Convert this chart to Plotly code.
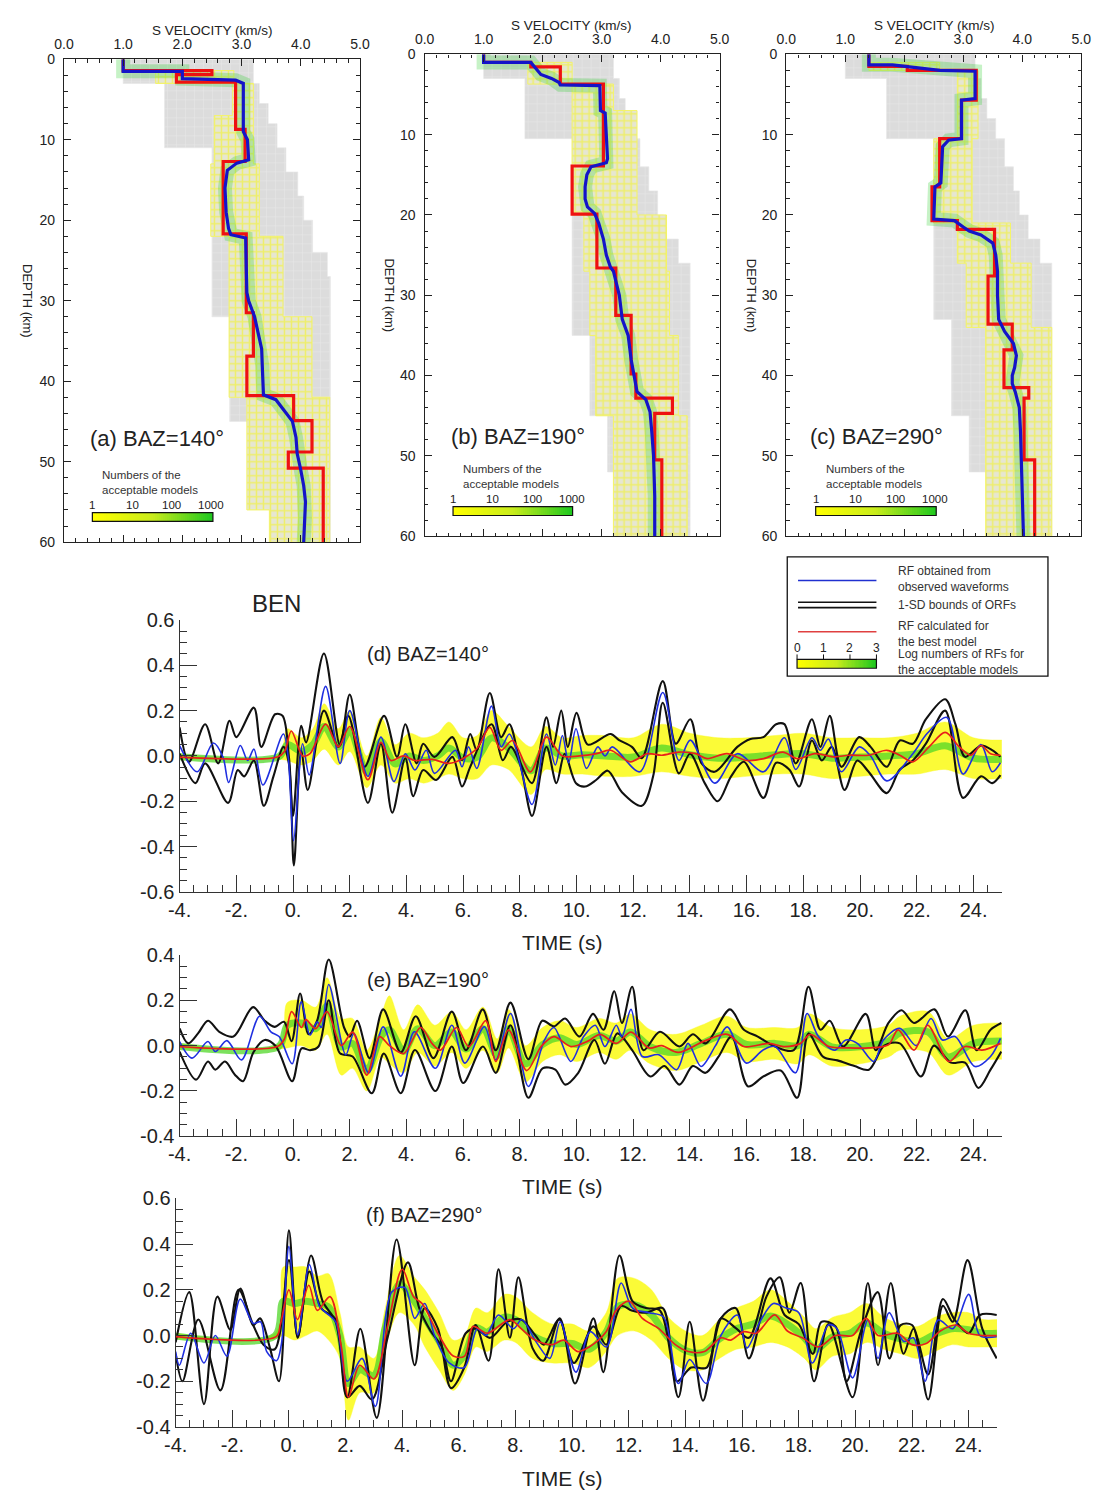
import plotly.graph_objects as go

W, H = 1105, 1504
FONT = "Liberation Sans, Arial, sans-serif"
TXT = "#222222"

# ---------------- velocity models (top panels) ----------------
# best model (red) : layer tops (km) and S velocity (km/s)
RED_A_TOP = [0, 1.4, 1.9, 2.85, 8.7, 12.7, 21.7, 31.5, 36.9, 41.8, 44.9, 48.8, 50.8]
RED_A_VS = [1.0, 2.5, 1.9, 2.9, 3.06, 2.69, 3.08, 3.2, 3.09, 3.88, 4.19, 3.79, 4.38]
RED_B_TOP = [0, 1.0, 1.55, 3.7, 13.9, 19.9, 26.6, 32.5, 39.8, 42.8, 44.7, 50.5]
RED_B_VS = [1.0, 1.8, 2.3, 3.03, 2.5, 2.92, 3.24, 3.5, 3.58, 4.2, 3.9, 4.02]
RED_C_TOP = [0, 1.5, 2.0, 5.7, 10.5, 16.5, 20.7, 21.8, 27.6, 33.6, 36.8, 41.5, 42.8, 50.5]
RED_C_VS = [1.4, 2.05, 3.22, 2.97, 2.6, 2.47, 2.9, 3.53, 3.42, 3.83, 3.69, 4.11, 4.03, 4.21]

# averaged model (blue)
BLUE_A_DEPTH = [0, 1.5, 1.5, 2.4, 2.6, 3.0, 9.0, 10.0, 12.5, 12.9, 13.8, 16, 19, 21, 21.8, 22.2, 26, 29, 30, 32,
                34, 36, 38, 40, 41.7, 42.3, 44, 45, 47, 49, 51, 53, 55, 57, 60]
BLUE_A_VS = [1.0, 1.0, 2.0, 2.0, 2.9, 3.03, 3.03, 3.1, 3.12, 2.92, 2.76, 2.72, 2.74, 2.78, 2.82, 3.07, 3.08, 3.09,
             3.12, 3.22, 3.28, 3.34, 3.35, 3.36, 3.37, 3.58, 3.75, 3.86, 3.92, 3.94, 4.0, 4.05, 4.08, 4.07, 4.05]
BLUE_B_DEPTH = [0, 1.0, 1.0, 1.5, 2.0, 2.5, 3.0, 3.5, 3.8, 3.9, 7.0, 7.3, 13.0, 13.5, 14.0, 15.0, 16.5, 18.0,
                19.0, 19.8, 21.0, 23.0, 25.0, 26.5, 27.0, 30.0, 33.0, 35.0, 38.0, 40.0, 42.0, 43.0, 44.5, 47.0,
                50.0, 55.0, 60.0]
BLUE_B_VS = [1.0, 1.0, 1.8, 1.86, 1.92, 1.97, 2.15, 2.28, 2.3, 2.97, 2.98, 3.06, 3.1, 3.08, 2.82, 2.75, 2.72,
             2.72, 2.76, 2.88, 2.95, 3.03, 3.08, 3.15, 3.2, 3.3, 3.35, 3.45, 3.5, 3.55, 3.6, 3.75, 3.82, 3.85,
             3.88, 3.9, 3.9]
BLUE_C_DEPTH = [0, 1.3, 1.3, 1.7, 2.0, 2.1, 5.5, 5.7, 10.5, 10.7, 11.5, 16.0, 16.5, 20.5, 20.7, 21.5, 22.0,
                22.5, 23.5, 25.0, 27.0, 30.0, 33.0, 34.5, 36.0, 37.5, 39.0, 40.0, 41.0, 42.0, 44.0, 47.0, 50.0,
                52.0, 60.0]
BLUE_C_VS = [1.4, 1.4, 1.8, 2.3, 2.6, 3.2, 3.2, 2.97, 2.97, 2.75, 2.65, 2.62, 2.52, 2.5, 2.85, 3.0, 3.1, 3.3,
             3.5, 3.55, 3.58, 3.58, 3.6, 3.7, 3.85, 3.9, 3.87, 3.83, 3.83, 3.88, 3.95, 3.97, 3.98, 4.0, 4.02]

# range of all tested models (grey)
GRAY_A_TOP = [0, 3, 5.5, 8, 11, 14, 17, 20, 24, 27, 32, 45, 52]
GRAY_A_LEFT = [1.0, 1.7, 1.7, 1.7, 2.5, 2.5, 2.5, 2.5, 2.5, 2.5, 2.8, 3.1, 3.5]
GRAY_A_RIGHT = [3.2, 3.3, 3.45, 3.6, 3.75, 3.95, 4.05, 4.2, 4.45, 4.5, 4.5, 4.5, 4.5]
GRAY_B_TOP = [0, 3, 5.5, 8, 10.5, 14, 17, 20, 23, 26, 35, 45, 52]
GRAY_B_LEFT = [1.0, 1.7, 1.7, 1.7, 2.5, 2.5, 2.5, 2.5, 2.5, 2.5, 2.8, 3.1, 3.5]
GRAY_B_RIGHT = [3.2, 3.3, 3.4, 3.55, 3.65, 3.8, 3.95, 4.05, 4.3, 4.5, 4.5, 4.5, 4.5]
GRAY_C_TOP = [0, 3, 5.5, 8, 10.5, 14, 17, 20, 23, 26, 33, 45, 52]
GRAY_C_LEFT = [1.0, 1.7, 1.7, 1.7, 2.5, 2.5, 2.5, 2.5, 2.5, 2.5, 2.8, 3.1, 3.5]
GRAY_C_RIGHT = [3.2, 3.3, 3.4, 3.55, 3.7, 3.85, 3.95, 4.1, 4.3, 4.5, 4.5, 4.5, 4.5]

# range of the acceptable models (yellow/green)
ACC_A_TOP = [1.4, 3.0, 7.0, 13, 22, 32, 42, 56]
ACC_A_LEFT = [1.55, 2.85, 2.54, 2.48, 2.79, 2.79, 3.09, 3.47]
ACC_A_RIGHT = [2.87, 3.2, 3.2, 3.3, 3.7, 4.19, 4.49, 4.49]
ACC_B_TOP = [1.0, 3.7, 7.0, 13.9, 20, 27, 35, 45]
ACC_B_LEFT = [1.75, 2.5, 2.5, 2.5, 2.7, 2.8, 2.9, 3.2]
ACC_B_RIGHT = [2.5, 3.2, 3.6, 3.6, 4.1, 4.15, 4.3, 4.45]
ACC_C_TOP = [1.0, 2.0, 10.5, 21, 26, 34]
ACC_C_LEFT = [1.4, 2.9, 2.5, 2.9, 3.05, 3.38]
ACC_C_RIGHT = [2.6, 3.25, 3.15, 3.8, 4.15, 4.5]

VEL_TICKS = [0, 1, 2, 3, 4, 5]
DEPTH_TICKS = [0, 10, 20, 30, 40, 50, 60]
MODEL_COUNT_LABELS = ["1", "10", "100", "1000"]
RF_COUNT_LABELS = ["0", "1", "2", "3"]

# ---------------- receiver functions (lower panels) ----------------
# (d) BAZ=140
BLUE_D_T = [-4.0, -3.38, -2.81, -2.47, -2.27, -1.86, -1.6, -1.38, -1.06, -0.34, -0.17, 0.02, 0.34, 0.57, 1.15,
            1.66, 2.0, 2.64, 3.1, 3.56, 3.96, 4.3, 4.7, 4.99, 5.73, 5.96, 6.19, 6.48, 7.0, 7.34, 7.63, 7.86,
            8.43, 8.94, 9.25, 9.5, 9.72, 9.98, 10.35, 10.75, 11.0, 11.26, 12.23, 13.04, 13.61, 14.01, 14.87,
            15.67, 16.59, 17.33, 17.73, 18.3, 18.6, 18.88, 19.34, 19.97, 20.37, 20.94, 21.86, 22.37, 23.06,
            23.63, 24.26, 24.66, 24.95]
BLUE_D_V = [0.046, -0.07, 0.057, -0.005, -0.117, 0.046, -0.02, 0.03, -0.128, 0.097, -0.005, -0.374, 0.054,
            -0.084, 0.307, -0.033, 0.2, -0.09, 0.083, -0.113, 0.01, -0.062, 0.025, -0.077, 0.025, -0.048, 0.04,
            -0.055, 0.22, 0.04, 0.097, 0.032, -0.214, 0.097, -0.04, 0.09, -0.03, 0.12, -0.055, 0.04, 0.0, 0.04,
            -0.07, 0.28, -0.02, 0.07, -0.12, 0.01, -0.07, 0.08, -0.06, 0.08, 0.025, 0.075, -0.07, 0.04, 0.0,
            -0.11, 0.01, 0.1, 0.17, -0.08, 0.05, -0.07, -0.03]
BLACK1_D_T = [-4.0, -3.67, -3.1, -2.64, -2.24, -2.0, -1.38, -1.12, -0.63, -0.37, -0.14, 0.0, 0.29, 0.46, 1.09,
              1.66, 2.0, 2.52, 3.21, 3.67, 3.96, 4.36, 4.59, 4.99, 5.62, 5.96, 6.25, 6.48, 6.94, 7.34, 7.63,
              8.03, 8.43, 8.94, 9.17, 9.46, 9.69, 10.0, 10.4, 11.2, 11.5, 11.95, 12.3, 13.04, 13.5, 14.01, 14.41,
              14.87, 15.67, 16.13, 16.59, 17.04, 17.33, 17.73, 18.3, 18.6, 18.93, 19.34, 19.97, 20.37, 20.94,
              21.4, 21.86, 22.32, 23.0, 23.36, 23.7, 24.27, 24.67, 24.95]
BLACK1_D_V = [0.126, -0.026, 0.14, -0.033, 0.155, 0.083, 0.213, 0.04, 0.184, 0.177, -0.01, -0.265, 0.133, 0.06,
              0.452, 0.046, 0.271, -0.048, 0.177, -0.004, 0.14, -0.033, 0.054, -0.004, 0.083, -0.019, 0.097,
              0.025, 0.278, 0.083, 0.14, -0.033, -0.12, 0.17, 0.04, 0.2, 0.04, 0.19, 0.05, 0.097, 0.07, 0.04,
              -0.01, 0.33, 0.054, 0.162, -0.033, -0.07, 0.04, 0.075, 0.083, 0.14, 0.14, -0.033, 0.162, 0.04,
              0.177, -0.048, 0.083, 0.04, -0.048, 0.068, 0.054, 0.162, 0.25, 0.14, -0.004, 0.046, 0.025, -0.004]
BLACK2_D_T = [-4.0, -3.44, -3.1, -2.29, -1.95, -1.72, -1.38, -1.03, -0.69, -0.34, -0.15, 0.03, 0.29, 0.52, 1.09,
              1.6, 1.95, 2.64, 3.1, 3.5, 3.96, 4.24, 4.59, 5.05, 5.62, 5.96, 6.25, 7.0, 7.4, 7.68, 8.0, 8.43,
              8.94, 9.29, 9.58, 9.98, 10.3, 10.7, 11.1, 11.6, 12.3, 12.7, 13.04, 13.61, 14.0, 14.52, 14.98,
              15.45, 15.9, 16.59, 17.04, 17.5, 17.85, 18.3, 18.65, 19.0, 19.45, 19.9, 20.3, 20.94, 21.4, 21.86,
              22.32, 23.0, 23.63, 24.26, 24.66, 24.95]
BLACK2_D_V = [0.01, -0.12, -0.033, -0.207, -0.062, -0.09, -0.02, -0.22, -0.09, 0.04, -0.03, -0.483, 0.025,
              -0.15, 0.2, 0.04, 0.177, -0.207, 0.054, -0.25, -0.01, -0.178, -0.062, -0.106, -0.004, -0.135,
              -0.048, 0.14, -0.019, 0.04, -0.033, -0.265, 0.04, -0.12, 0.01, -0.12, -0.135, -0.105, -0.065,
              -0.16, -0.22, -0.09, 0.235, -0.077, 0.01, -0.12, -0.2, -0.09, -0.026, -0.185, -0.03, -0.06,
              -0.135, 0.068, -0.02, 0.04, -0.15, -0.02, -0.07, -0.164, -0.06, -0.02, 0.054, 0.2, -0.185, -0.09,
              -0.12, -0.085]
RED_D_T = [-4.0, -0.55, -0.3, -0.06, 0.34, 0.6, 1.15, 1.6, 2.0, 2.64, 3.1, 3.45, 3.9, 4.3, 4.9, 5.5, 5.98, 6.5,
           6.94, 7.34, 7.74, 8.37, 8.94, 9.5, 10.1, 10.7, 11.2, 11.89, 12.5, 13.0, 13.6, 14.2, 14.6, 15.3, 16.0,
           16.6, 17.27, 17.8, 18.4, 19.1, 19.6, 20.3, 20.94, 21.4, 21.86, 22.43, 23.0, 23.5, 23.9, 24.27,
           24.6, 24.95]
RED_D_V = [-0.005, -0.005, 0.02, 0.11, 0.0, 0.01, 0.14, 0.04, 0.13, -0.105, 0.06, -0.02, 0.0, -0.02, -0.015,
           -0.033, -0.012, 0.035, 0.126, 0.025, 0.068, -0.07, 0.083, 0.0, 0.0, 0.01, 0.025, -0.026, 0.01, 0.003,
           0.017, 0.01, -0.012, 0.01, -0.02, -0.012, 0.017, -0.012, 0.01, -0.004, 0.003, 0.003, 0.025, 0.003,
           -0.026, 0.04, 0.104, 0.04, 0.003, 0.046, 0.01, 0.003]
BAND_D_T = [-4.0, -0.5, -0.2, 0.3, 0.7, 1.1, 1.6, 2.0, 2.6, 3.1, 3.6, 4.1, 4.6, 5.1, 5.5, 6.0, 6.5, 7.0, 7.6,
            8.4, 8.9, 9.5, 10.2, 11.0, 12.0, 13.0, 14.0, 15.0, 16.0, 17.0, 18.0, 19.0, 20.0, 21.0, 22.0, 23.0,
            24.0, 25.0]
BAND_D_LO = [-0.015, -0.015, -0.02, -0.04, -0.02, 0.03, -0.04, 0.02, -0.14, -0.04, -0.12, -0.1, -0.12, -0.1,
             -0.08, -0.1, -0.1, -0.04, -0.06, -0.17, -0.06, -0.08, -0.08, -0.09, -0.09, -0.07, -0.09, -0.1,
             -0.09, -0.08, -0.08, -0.1, -0.09, -0.08, -0.08, -0.06, -0.1, -0.1]
BAND_D_HI = [0.008, 0.008, 0.12, 0.08, 0.12, 0.23, 0.12, 0.2, 0.0, 0.17, 0.05, 0.1, 0.08, 0.1, 0.15, 0.08,
             0.09, 0.2, 0.13, 0.04, 0.13, 0.08, 0.09, 0.09, 0.08, 0.14, 0.1, 0.08, 0.08, 0.09, 0.1, 0.08, 0.08,
             0.08, 0.1, 0.15, 0.08, 0.07]

# (e) BAZ=190
BLUE_E_T = [-4.0, -3.56, -3.0, -2.74, -2.33, -1.82, -1.18, -0.78, -0.49, -0.03, 0.29, 0.6, 0.85, 1.0, 1.26,
            1.86, 2.15, 2.67, 3.18, 3.8, 4.28, 5.02, 5.6, 6.06, 6.75, 7.15, 7.67, 8.3, 8.87, 9.2, 9.8, 10.25,
            10.66, 11.0, 11.4, 11.6, 11.92, 12.32, 12.9, 13.53, 13.93, 14.39, 14.9, 15.31, 15.99, 16.57, 17.0,
            17.72, 18.13, 18.53, 19.1, 19.5, 19.9, 20.48, 20.82, 21.4, 21.98, 22.5, 22.9, 23.35, 24.05, 24.6,
            24.95]
BLUE_E_V = [0.018, -0.055, 0.018, -0.026, 0.022, -0.063, 0.13, 0.061, 0.04, -0.08, 0.193, 0.047, 0.105, 0.08,
            0.27, -0.04, 0.054, -0.12, 0.083, -0.135, 0.061, -0.1, 0.09, -0.077, 0.083, -0.063, 0.142, -0.18,
            0.025, 0.08, -0.07, 0.04, 0.09, -0.004, 0.09, 0.04, 0.16, -0.048, -0.04, -0.106, 0.01, -0.092, 0.0,
            0.083, -0.077, -0.02, -0.004, -0.12, 0.142, 0.04, -0.02, 0.025, 0.01, -0.07, 0.025, 0.076, 0.0, 0.12,
            0.025, 0.04, -0.092, -0.048, 0.032]
BLACK1_E_T = [-4.0, -3.7, -3.35, -3.0, -2.6, -2.1, -1.41, -1.0, -0.65, -0.32, -0.05, 0.25, 0.55, 0.85, 1.26,
              1.8, 2.0, 2.26, 2.7, 3.18, 3.8, 4.33, 4.95, 5.6, 6.1, 6.69, 7.15, 7.67, 8.3, 8.79, 9.2, 9.6, 10.1,
              10.58, 10.95, 11.33, 11.6, 11.96, 12.36, 12.94, 13.63, 14.1, 14.55, 15.41, 15.9, 16.39, 17.0,
              17.66, 18.18, 18.6, 18.93, 19.4, 20.2, 20.55, 21.0, 21.46, 21.9, 22.62, 23.1, 23.71, 24.11, 24.6,
              24.98]
BLACK1_E_V = [0.076, 0.01, 0.054, 0.11, 0.061, 0.04, 0.17, 0.11, 0.083, 0.105, 0.02, 0.23, 0.05, 0.11, 0.38,
              0.08, 0.04, 0.11, -0.055, 0.16, -0.03, 0.13, -0.055, 0.15, -0.02, 0.16, -0.02, 0.19, -0.06, 0.11,
              0.085, 0.12, 0.04, 0.14, 0.07, 0.24, 0.1, 0.26, -0.02, 0.061, -0.004, 0.05, 0.01, 0.16, 0.07, 0.04,
              -0.004, -0.02, 0.26, 0.07, 0.11, -0.004, 0.14, -0.02, 0.1, 0.156, 0.1, 0.16, 0.04, 0.156, -0.02,
              0.07, 0.1]
BLACK2_E_T = [-4.0, -3.42, -3.0, -2.74, -2.4, -2.05, -1.76, -1.4, -1.0, -0.6, -0.03, 0.3, 0.6, 0.9, 1.26, 1.65,
              2.1, 2.78, 3.2, 3.8, 4.3, 5.02, 5.6, 6.0, 6.7, 7.15, 7.67, 8.3, 8.8, 9.25, 9.6, 10.06, 10.63, 11.0,
              11.44, 11.96, 12.6, 13.1, 13.63, 14.1, 14.55, 15.0, 15.47, 16.05, 16.6, 17.2, 17.78, 18.18, 18.7,
              19.2, 19.8, 20.31, 20.85, 21.4, 22.15, 22.6, 23.2, 23.7, 24.17, 24.6, 24.98]
BLACK2_E_V = [-0.026, -0.15, -0.07, -0.106, -0.07, -0.128, -0.157, -0.03, 0.025, -0.004, -0.157, -0.012, -0.02,
              -0.004, 0.2, -0.033, -0.048, -0.21, -0.035, -0.21, -0.019, -0.2, -0.004, -0.165, -0.004, -0.12,
              0.09, -0.23, -0.1, -0.106, -0.172, -0.12, 0.025, -0.08, 0.054, -0.02, -0.136, -0.09, -0.172, -0.09,
              -0.12, -0.05, 0.04, -0.18, -0.135, -0.11, -0.23, 0.054, -0.05, -0.065, -0.09, -0.106, 0.0, 0.01,
              -0.136, 0.0, -0.075, -0.075, -0.187, -0.106, -0.026]
RED_E_T = [-4.0, -0.55, -0.3, -0.05, 0.3, 0.45, 0.8, 1.2, 1.7, 2.1, 2.6, 3.05, 3.4, 3.9, 4.5, 4.9, 5.2, 5.77,
           6.2, 6.8, 7.15, 7.6, 8.24, 8.75, 9.2, 9.8, 10.4, 10.83, 11.4, 11.92, 12.55, 13.0, 13.58, 14.5, 15.31,
           15.9, 16.8, 17.3, 17.9, 18.24, 18.9, 19.6, 20.3, 21.0, 21.34, 21.9, 22.38, 23.13, 23.7, 24.3, 24.95]
RED_E_V = [-0.004, -0.004, 0.03, 0.15, 0.08, 0.115, 0.075, 0.15, 0.0, 0.06, -0.13, 0.04, 0.0, -0.035, 0.08,
           0.01, -0.02, 0.08, -0.004, 0.11, -0.07, 0.07, -0.11, -0.004, 0.04, -0.004, 0.02, 0.05, 0.01, 0.06,
           -0.01, 0.0, -0.03, 0.02, 0.05, -0.004, 0.01, -0.004, 0.01, 0.05, -0.004, -0.01, -0.01, 0.004, 0.07,
           -0.02, 0.09, -0.07, -0.004, -0.02, 0.01]
BAND_E_T = [-4.0, -0.5, -0.2, 0.3, 0.8, 1.2, 1.7, 2.1, 2.6, 3.1, 3.4, 3.9, 4.4, 5.0, 5.6, 6.1, 6.7, 7.2, 7.6,
            8.2, 8.8, 9.4, 10.0, 10.8, 11.4, 11.9, 12.6, 13.5, 14.4, 15.3, 16.0, 17.0, 17.8, 18.2, 19.0, 20.0,
            21.0, 21.4, 22.4, 23.1, 24.0, 25.0]
BAND_E_LO = [-0.015, -0.015, -0.01, 0.0, -0.02, 0.05, -0.13, -0.1, -0.2, -0.05, -0.08, -0.12, -0.03, -0.09,
             -0.03, -0.1, -0.02, -0.12, -0.01, -0.16, -0.07, -0.04, -0.07, -0.03, -0.06, -0.02, -0.08, -0.11,
             -0.07, -0.03, -0.07, -0.06, -0.08, -0.04, -0.09, -0.08, -0.05, -0.02, -0.03, -0.13, -0.07, -0.06]
BAND_E_HI = [0.008, 0.008, 0.19, 0.2, 0.17, 0.3, 0.12, 0.12, -0.02, 0.13, 0.22, 0.07, 0.18, 0.09, 0.15, 0.07,
             0.17, 0.03, 0.16, 0.0, 0.08, 0.11, 0.08, 0.12, 0.1, 0.14, 0.07, 0.05, 0.09, 0.13, 0.08, 0.08, 0.08,
             0.14, 0.08, 0.07, 0.09, 0.13, 0.15, 0.03, 0.09, 0.1]

# (f) BAZ=290
BLUE_F_T = [-4.0, -3.87, -3.47, -3.0, -2.6, -2.19, -1.72, -1.26, -1.0, -0.79, -0.44, -0.27, 0.0, 0.31, 0.72,
            1.07, 1.3, 1.65, 2.06, 2.58, 3.05, 3.63, 4.09, 4.44, 4.79, 5.14, 5.66, 6.19, 6.65, 6.95, 7.4, 7.93,
            8.22, 8.74, 9.21, 9.58, 10.13, 10.64, 11.21, 11.73, 12.13, 12.71, 13.23, 13.75, 14.15, 14.73, 15.25,
            15.83, 16.17, 16.63, 17.1, 17.55, 18.0, 18.48, 19.05, 19.35, 19.9, 20.44, 20.8, 21.19, 21.71, 22.05,
            22.46, 22.92, 23.44, 24.0, 24.4, 24.99]
BLUE_F_V = [-0.07, -0.13, 0.01, -0.12, 0.0, -0.09, 0.16, 0.053, 0.06, -0.069, -0.11, -0.04, 0.39, 0.003, 0.31,
            0.13, 0.1, 0.06, -0.2, -0.1, -0.31, 0.19, 0.21, 0.075, 0.14, 0.0, -0.12, -0.14, 0.03, 0.0, 0.09, 0.03,
            0.07, -0.03, -0.1, 0.06, -0.16, 0.017, -0.05, 0.23, 0.12, 0.1, 0.08, -0.21, -0.105, -0.21, 0.0, 0.09,
            -0.055, 0.06, 0.14, 0.12, 0.1, -0.12, 0.046, 0.03, -0.185, 0.068, -0.1, 0.1, -0.026, -0.01, -0.2,
            0.068, 0.03, 0.18, 0.0, -0.005]
BLACK1_F_T = [-4.0, -3.52, -3.0, -2.53, -2.07, -1.72, -1.26, -1.02, -0.67, -0.35, 0.0, 0.31, 0.78, 1.19, 1.65,
              2.06, 2.52, 3.1, 3.8, 4.44, 4.79, 5.26, 5.72, 6.19, 6.59, 7.05, 7.4, 7.8, 8.1, 8.6, 8.98, 9.56,
              10.1, 10.75, 11.1, 11.67, 12.13, 12.6, 13.1, 13.75, 14.15, 14.62, 15.25, 15.77, 16.24, 16.86,
              17.33, 17.67, 18.07, 18.54, 19.05, 19.9, 20.44, 20.8, 21.25, 21.7, 22.05, 22.57, 23.09, 23.44,
              23.96, 24.48, 24.99]
BLACK1_F_V = [-0.03, 0.19, -0.3, 0.17, 0.025, 0.205, 0.045, 0.075, -0.055, -0.2, 0.46, -0.01, 0.35, 0.15, 0.06,
              -0.27, 0.03, -0.36, 0.42, -0.13, 0.12, 0.03, -0.23, -0.14, 0.046, -0.11, 0.29, -0.01, 0.255,
              -0.055, -0.11, 0.075, -0.21, 0.075, -0.16, 0.35, 0.15, 0.12, 0.11, -0.27, 0.06, -0.285, 0.075,
              0.12, -0.1, 0.17, 0.255, 0.1, 0.23, -0.2, 0.05, -0.27, 0.23, -0.13, 0.23, -0.08, 0.03, -0.28, 0.13,
              0.06, 0.33, 0.03, -0.1]
BLACK2_F_T = [-4.0, -3.76, -3.2, -2.42, -1.78, -1.26, -0.9, -0.5, 0.0, 0.31, 0.72, 1.13, 1.65, 2.06, 2.5, 2.93,
              3.5, 4.2, 4.6, 5.0, 5.4, 5.72, 6.24, 6.6, 7.1, 7.7, 8.2, 8.7, 9.0, 9.54, 10.06, 10.75, 11.2, 11.73,
              12.1, 12.6, 13.2, 13.69, 14.2, 14.75, 15.25, 15.8, 16.24, 17.0, 17.5, 18.0, 18.5, 18.8, 19.3,
              19.69, 20.2, 20.79, 21.2, 21.6, 22.0, 22.57, 23.09, 23.5, 24.0, 24.4, 24.99]
BLACK2_F_V = [-0.08, -0.2, 0.07, -0.24, 0.2, 0.045, -0.04, -0.06, 0.33, -0.005, 0.28, 0.12, 0.07, -0.27, -0.22,
              -0.28, 0.0, 0.32, 0.12, 0.02, -0.05, -0.2, 0.01, 0.03, -0.01, 0.06, 0.07, 0.0, -0.04, 0.07, -0.12,
              0.04, -0.04, 0.13, 0.11, 0.1, 0.12, -0.2, -0.14, -0.14, 0.075, 0.03, -0.01, 0.25, 0.09, 0.05, -0.08,
              0.06, 0.04, -0.2, 0.02, 0.19, -0.1, 0.046, 0.046, -0.17, 0.16, 0.07, 0.01, 0.09, 0.09]
RED_F_T = [-4.0, -0.45, -0.3, 0.0, 0.3, 0.7, 1.0, 1.45, 1.85, 2.1, 2.5, 3.0, 3.5, 4.0, 4.4, 4.7, 5.3, 5.8, 6.2,
           6.5, 7.0, 7.8, 8.2, 8.7, 9.3, 9.7, 10.2, 10.6, 11.2, 11.55, 12.02, 12.48, 13.06, 13.64, 14.1, 14.67,
           15.25, 15.6, 16.06, 16.5, 17.15, 17.6, 18.13, 18.7, 19.3, 19.9, 20.38, 20.8, 21.5, 22.0, 22.5, 23.0,
           23.55, 24.0, 24.5, 24.99]
RED_F_V = [-0.005, -0.005, 0.05, 0.2, 0.07, 0.22, 0.11, 0.17, -0.05, -0.27, -0.13, -0.19, 0.05, 0.29, 0.17,
           0.14, 0.0, -0.09, -0.09, 0.04, 0.01, 0.07, 0.03, -0.02, -0.04, -0.02, -0.07, -0.05, 0.017, 0.11,
           0.15, 0.075, 0.03, -0.04, -0.07, -0.07, -0.01, -0.02, 0.017, 0.01, 0.09, 0.02, -0.01, -0.05, 0.0,
           0.0, 0.075, 0.0, 0.01, -0.04, -0.035, 0.02, 0.046, 0.01, 0.0, 0.0]
BAND_F_T = [-4.0, -0.5, -0.2, 0.2, 0.6, 1.0, 1.4, 1.8, 2.1, 2.5, 3.0, 3.4, 3.9, 4.4, 4.8, 5.3, 5.8, 6.2, 6.6,
            7.0, 7.6, 8.0, 8.6, 9.3, 10.0, 10.6, 11.2, 11.6, 12.2, 12.8, 13.4, 14.0, 14.6, 15.2, 15.8, 16.4,
            17.0, 17.6, 18.2, 18.6, 19.2, 19.8, 20.4, 21.0, 21.6, 22.2, 22.8, 23.4, 24.0, 24.5, 25.0]
BAND_F_LO = [-0.015, -0.015, 0.0, -0.02, 0.0, 0.02, -0.02, -0.1, -0.37, -0.25, -0.25, -0.05, 0.1, 0.05, -0.05,
             -0.15, -0.24, -0.17, -0.05, -0.07, -0.02, -0.03, -0.1, -0.12, -0.12, -0.14, -0.07, 0.0, 0.02, -0.02,
             -0.1, -0.15, -0.15, -0.1, -0.06, -0.05, -0.03, -0.05, -0.1, -0.15, -0.09, -0.08, -0.03, -0.06,
             -0.08, -0.1, -0.07, -0.04, -0.05, -0.05, -0.05]
BAND_F_HI = [0.01, 0.01, 0.3, 0.3, 0.3, 0.26, 0.27, 0.1, -0.05, -0.05, -0.1, 0.12, 0.35, 0.26, 0.2, 0.1, -0.02,
             0.0, 0.12, 0.1, 0.18, 0.17, 0.1, 0.05, 0.05, 0.02, 0.1, 0.25, 0.25, 0.2, 0.08, 0.02, 0.0, 0.07,
             0.12, 0.15, 0.2, 0.15, 0.08, 0.03, 0.08, 0.1, 0.14, 0.08, 0.05, 0.04, 0.08, 0.1, 0.1, 0.07, 0.07]

TIME_TICKS = list(range(-4, 25, 2))

# ---------------- helpers ----------------
def pxx(a, b):
    return [a / W, b / W]


def pxy(a, b):
    return [1 - b / H, 1 - a / H]


def step_poly(tops, lefts, rights, bottom=60):
    bots = tops[1:] + [bottom]
    xs, ys = [], []
    for t, b, l in zip(tops, bots, lefts):
        xs += [l, l]
        ys += [t, b]
    for t, b, r in reversed(list(zip(tops, bots, rights))):
        xs += [r, r]
        ys += [b, t]
    xs.append(xs[0])
    ys.append(ys[0])
    return xs, ys


def step_line(tops, vels, bottom=60):
    bots = tops[1:] + [bottom]
    xs, ys = [], []
    for t, b, v in zip(tops, bots, vels):
        xs += [v, v]
        ys += [t, b]
    return xs, ys


fig = go.Figure()
layout = dict(width=W, height=H, margin=dict(l=0, r=0, t=0, b=0), paper_bgcolor="white",
              plot_bgcolor="white", showlegend=False, font=dict(family=FONT, color=TXT))


def sfx(n):
    return "" if n == 1 else str(n)


# ---------------- velocity panels ----------------
VEL_PANELS = [
    (1, (53, 355), (49, 539), GRAY_A_TOP, GRAY_A_LEFT, GRAY_A_RIGHT, ACC_A_TOP, ACC_A_LEFT, ACC_A_RIGHT,
     RED_A_TOP, RED_A_VS, BLUE_A_DEPTH, BLUE_A_VS),
    (2, (421, 722), (44, 533), GRAY_B_TOP, GRAY_B_LEFT, GRAY_B_RIGHT, ACC_B_TOP, ACC_B_LEFT, ACC_B_RIGHT,
     RED_B_TOP, RED_B_VS, BLUE_B_DEPTH, BLUE_B_VS),
    (3, (790, 1091), (44, 533), GRAY_C_TOP, GRAY_C_LEFT, GRAY_C_RIGHT, ACC_C_TOP, ACC_C_LEFT, ACC_C_RIGHT,
     RED_C_TOP, RED_C_VS, BLUE_C_DEPTH, BLUE_C_VS),
]
for (n, xd, yd, gt, gl, gr, at, al, ar, rt, rv, bd, bv) in VEL_PANELS:
    s = sfx(n)
    xa, ya = "x" + s, "y" + s
    gx, gy = step_poly(gt, gl, gr)
    fig.add_trace(go.Scatter(x=gx, y=gy, xaxis=xa, yaxis=ya, mode="lines", fill="toself",
                             fillcolor="#dcdcdc", line=dict(width=0.6, color="#e6e6e6"),
                             fillpattern=dict(shape="+", fgcolor="#f2f2f2", bgcolor="#dcdcdc",
                                              size=9, solidity=0.12), hoverinfo="skip"))
    ax_, ay_ = step_poly(at, al, ar)
    fig.add_trace(go.Scatter(x=ax_, y=ay_, xaxis=xa, yaxis=ya, mode="lines", fill="toself",
                             fillcolor="#eeee99", line=dict(width=1, color="#f4f466"),
                             fillpattern=dict(shape="+", fgcolor="#f6f600", bgcolor="#e6e6d2",
                                              size=7, solidity=0.38), hoverinfo="skip"))
    fig.add_trace(go.Scatter(x=bv, y=bd, xaxis=xa, yaxis=ya, mode="lines",
                             line=dict(width=14, color="rgba(50,210,50,0.28)"), hoverinfo="skip"))
    sx, sy = step_line(rt, rv)
    fig.add_trace(go.Scatter(x=sx, y=sy, xaxis=xa, yaxis=ya, mode="lines",
                             line=dict(width=3.2, color="#ee1111"), hoverinfo="skip"))
    fig.add_trace(go.Scatter(x=bv, y=bd, xaxis=xa, yaxis=ya, mode="lines",
                             line=dict(width=3.2, color="#1414c8"), hoverinfo="skip"))
    layout["xaxis" + s] = dict(domain=pxx(*xd), anchor=ya, range=[0, 5], side="top",
                               tickvals=VEL_TICKS, ticktext=[f"{v:.1f}" for v in VEL_TICKS],
                               ticks="inside", ticklen=7, tickwidth=1.2, tickcolor="#222",
                               minor=dict(dtick=0.2, tick0=0, ticklen=3.5, ticks="inside", tickcolor="#222"),
                               mirror="ticks", showline=True, linecolor="#222", linewidth=1.3,
                               ticklabelstandoff=4,
                               showgrid=False, zeroline=False, tickfont=dict(size=14, family=FONT, color=TXT))
    layout["yaxis" + s] = dict(domain=pxy(*yd), anchor=xa, range=[60, 0], tickvals=DEPTH_TICKS,
                               ticktext=[str(v) for v in DEPTH_TICKS],
                               ticks="inside", ticklen=7, tickwidth=1.2, tickcolor="#222",
                               minor=dict(dtick=2, tick0=0, ticklen=3.5, ticks="inside", tickcolor="#222"),
                               mirror="ticks", showline=True, linecolor="#222", linewidth=1.3,
                               ticklabelstandoff=5,
                               showgrid=False, zeroline=False, tickfont=dict(size=14, family=FONT, color=TXT))

# ---------------- receiver function panels ----------------
RF_PANELS = [
    (4, (171, 1010), (618, 894), [-0.6, 0.6], BAND_D_T, BAND_D_LO, BAND_D_HI, BLACK1_D_T, BLACK1_D_V,
     BLACK2_D_T, BLACK2_D_V, BLUE_D_T, BLUE_D_V, RED_D_T, RED_D_V),
    (5, (171, 1010), (958, 1142), [-0.4, 0.4], BAND_E_T, BAND_E_LO, BAND_E_HI, BLACK1_E_T, BLACK1_E_V,
     BLACK2_E_T, BLACK2_E_V, BLUE_E_T, BLUE_E_V, RED_E_T, RED_E_V),
    (6, (167, 1005), (1205, 1437), [-0.4, 0.6], BAND_F_T, BAND_F_LO, BAND_F_HI, BLACK1_F_T, BLACK1_F_V,
     BLACK2_F_T, BLACK2_F_V, BLUE_F_T, BLUE_F_V, RED_F_T, RED_F_V),
]
SPL = dict(shape="spline", smoothing=0.9)
for (n, xd, yd, yr, bt, blo, bhi, k1t, k1v, k2t, k2v, bl_t, bl_v, r_t, r_v) in RF_PANELS:
    s = sfx(n)
    xa, ya = "x" + s, "y" + s
    fig.add_trace(go.Scatter(x=bt, y=blo, xaxis=xa, yaxis=ya, mode="lines",
                             line=dict(width=0.5, color="rgba(250,250,40,0.8)", **SPL), hoverinfo="skip"))
    fig.add_trace(go.Scatter(x=bt, y=bhi, xaxis=xa, yaxis=ya, mode="lines", fill="tonexty",
                             fillcolor="rgba(250,250,20,0.85)",
                             line=dict(width=0.5, color="rgba(250,250,40,0.8)", **SPL), hoverinfo="skip"))
    mid = [(a + b) / 2 for a, b in zip(blo, bhi)]
    fig.add_trace(go.Scatter(x=bt, y=mid, xaxis=xa, yaxis=ya, mode="lines",
                             line=dict(width=7, color="rgba(80,215,40,0.75)", **SPL), hoverinfo="skip"))
    for tt, vv in ((k1t, k1v), (k2t, k2v)):
        fig.add_trace(go.Scatter(x=tt, y=vv, xaxis=xa, yaxis=ya, mode="lines",
                                 line=dict(width=2.1, color="#111111", **SPL), hoverinfo="skip"))
    fig.add_trace(go.Scatter(x=bl_t, y=bl_v, xaxis=xa, yaxis=ya, mode="lines",
                             line=dict(width=1.6, color="#1f2fe0", **SPL), hoverinfo="skip"))
    fig.add_trace(go.Scatter(x=r_t, y=r_v, xaxis=xa, yaxis=ya, mode="lines",
                             line=dict(width=1.7, color="#e8201a", **SPL), hoverinfo="skip"))
    yt = [v / 10 for v in range(round(yr[0] * 10), round(yr[1] * 10) + 1, 2)]
    layout["xaxis" + s] = dict(domain=pxx(*xd), anchor=ya, range=[-4, 25], tickvals=TIME_TICKS,
                               ticktext=[f"{t}." for t in TIME_TICKS], ticks="inside", ticklen=17,
                               tickwidth=1, tickcolor="#333",
                               minor=dict(dtick=0.5, tick0=0, ticklen=7, ticks="inside", tickcolor="#333"),
                               showline=True, linecolor="#333", linewidth=1.2, mirror=False,
                               showgrid=False, zeroline=False, tickfont=dict(size=20, family=FONT, color=TXT))
    layout["yaxis" + s] = dict(domain=pxy(*yd), anchor=xa, range=yr, tickvals=yt,
                               ticktext=[f"{v:.1f}" for v in yt], ticks="inside", ticklen=17, tickwidth=1,
                               tickcolor="#333",
                               minor=dict(dtick=0.05, tick0=0, ticklen=7, ticks="inside", tickcolor="#333"),
                               showline=True, linecolor="#333", linewidth=1.2, mirror=False,
                               showgrid=False, zeroline=False, tickfont=dict(size=20, family=FONT, color=TXT))

# ---------------- gradient bars ----------------
GRAD = [[0, "#ffff00"], [0.5, "#c8ec1c"], [1, "#1ec81e"]]
BARS = [(7, (82, 205), (509, 518)), (8, (450, 572), (503, 512)), (9, (820, 943), (503, 512)),
        (10, (801, 882), (658, 667))]
shapes = []
for n, xd, yd in BARS:
    s = sfx(n)
    fig.add_trace(go.Heatmap(z=[list(range(60))], x=list(range(60)), y=[0], xaxis="x" + s, yaxis="y" + s,
                             colorscale=GRAD, showscale=False, zmin=0, zmax=59, hoverinfo="skip"))
    layout["xaxis" + s] = dict(domain=pxx(*xd), anchor="y" + s, visible=False, range=[-0.5, 59.5])
    layout["yaxis" + s] = dict(domain=pxy(*yd), anchor="x" + s, visible=False, range=[-0.5, 0.5])
    shapes.append(dict(type="rect", xref="paper", yref="paper", x0=xd[0] / W, x1=xd[1] / W,
                       y0=1 - yd[1] / H, y1=1 - yd[0] / H, line=dict(color="#111", width=1.2)))

# ---------------- legend box ----------------
def hline(x0, x1, y, color, w):
    return dict(type="line", xref="paper", yref="paper", x0=x0 / W, x1=x1 / W, y0=1 - y / H, y1=1 - y / H,
                line=dict(color=color, width=w))


shapes.append(dict(type="rect", xref="paper", yref="paper", x0=791 / W, x1=1057 / W, y0=1 - 675 / H,
                   y1=1 - 554 / H, line=dict(color="#111", width=1.3)))
shapes.append(hline(802, 882, 578, "#2030d0", 1.6))
shapes.append(hline(802, 882, 600, "#111", 1.6))
shapes.append(hline(802, 882, 605.5, "#111", 1.6))
shapes.append(hline(802, 882, 630, "#e04040", 1.6))
for i in range(4):
    xx = 801 + i * (882 - 801) / 3
    shapes.append(dict(type="line", xref="paper", yref="paper", x0=xx / W, x1=xx / W, y0=1 - 658 / H,
                       y1=1 - 653 / H, line=dict(color="#111", width=1)))

annotations = []


def txt(x, y, s, size, xanchor="center", angle=0, yanchor="middle"):
    annotations.append(dict(x=x / W, y=1 - y / H, xref="paper", yref="paper", text=s, showarrow=False,
                            xanchor=xanchor, yanchor=yanchor, textangle=angle,
                            font=dict(size=size, family=FONT, color=TXT)))


# top panel texts
txt(205, 20, "S VELOCITY (km/s)", 13.5)
txt(571, 15, "S VELOCITY (km/s)", 13.5)
txt(941, 15, "S VELOCITY (km/s)", 13.5)
txt(16, 294, "DEPTH (km)", 13, angle=90)
txt(385, 289, "DEPTH (km)", 13, angle=90)
txt(754, 289, "DEPTH (km)", 13, angle=90)
txt(148, 434, "(a) BAZ=140°", 22)
txt(516, 432, "(b) BAZ=190°", 22)
txt(882, 432, "(c) BAZ=290°", 22)
for (bx, by) in ((82, 509), (450, 503), (820, 503)):
    annotations.append(dict(x=(bx + 8) / W, y=1 - (by - 31) / H, xref="paper", yref="paper",
                            text="Numbers of the<br>acceptable models", showarrow=False, xanchor="left",
                            yanchor="middle", align="left",
                            font=dict(size=11.5, family=FONT, color="#333")))
    for i, lab in enumerate(MODEL_COUNT_LABELS):
        txt(bx + i * 40.5, by - 8, lab, 11.5)

# lower panel texts
txt(270, 601, "BEN", 24)
txt(424, 653, "(d) BAZ=140°", 20)
txt(424, 983, "(e) BAZ=190°", 20)
txt(420, 1222, "(f) BAZ=290°", 20)
txt(561, 945, "TIME (s)", 21)
txt(561, 1193, "TIME (s)", 21)
txt(561, 1489, "TIME (s)", 21)

# legend texts
for (yy, s) in ((576, "RF obtained from<br>observed waveforms"), (603, "1-SD bounds of ORFs"),
                (632, "RF calculated for<br>the best model"), (661, "Log numbers of RFs for<br>the acceptable models")):
    annotations.append(dict(x=902 / W, y=1 - yy / H, xref="paper", yref="paper", text=s, showarrow=False,
                            xanchor="left", yanchor="middle", align="left",
                            font=dict(size=12, family=FONT, color="#333")))
for i, lab in enumerate(RF_COUNT_LABELS):
    txt(801 + i * 27, 646, lab, 12)

layout["shapes"] = shapes
layout["annotations"] = annotations
fig.update_layout(**layout)
fig.write_html("out.html")
